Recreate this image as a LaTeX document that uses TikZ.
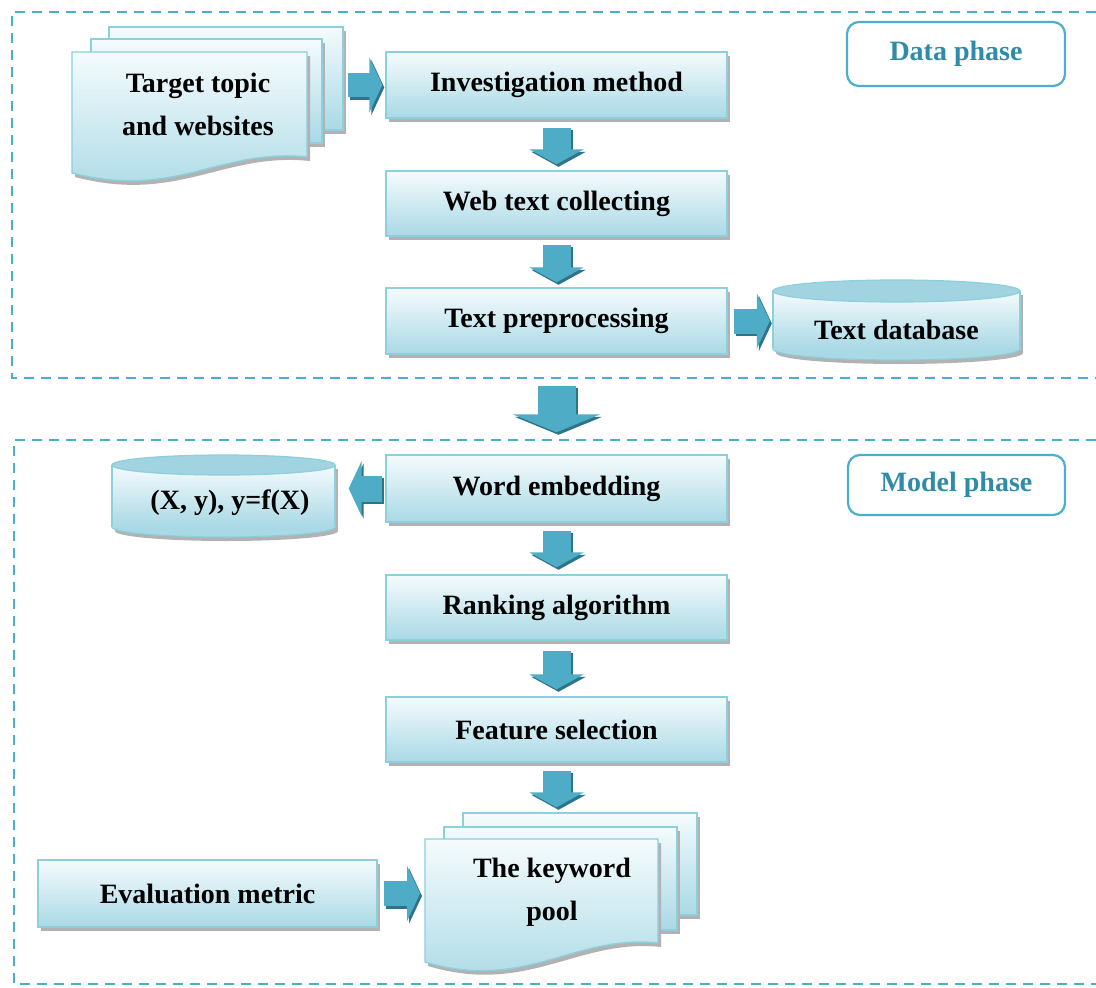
\documentclass[tikz,border=0pt]{standalone}
\usepackage{fontspec}
\setmainfont{Liberation Serif}
\usetikzlibrary{shadows,arrows.meta,calc}
\definecolor{dashc}{HTML}{4AAFC8}
\definecolor{boxtop}{HTML}{F5FBFD}
\definecolor{boxbot}{HTML}{A9D9E5}
\definecolor{boxline}{HTML}{8CCFDD}
\definecolor{endfill}{HTML}{A2D3E0}
\definecolor{arrowc}{HTML}{4FACC7}
\definecolor{arrowsh}{HTML}{2C7489}
\definecolor{phasec}{HTML}{2E8CA8}
\tikzset{
  procbox/.style={draw=boxline, line width=1.4pt, top color=boxtop, bottom color=boxbot,
    drop shadow={shadow xshift=3pt, shadow yshift=-4pt, fill=black!30, opacity=1},
    inner sep=0pt, align=center},
  sheet/.style={draw=boxline, line width=1.4pt, top color=boxtop, bottom color=boxbot,
    drop shadow={shadow xshift=3pt, shadow yshift=-4pt, fill=black!30, opacity=1}},
  plainnode/.style={inner sep=0pt, align=center},
  phasebox/.style={draw=dashc, line width=2.2pt, rounded corners=12pt, fill=white,
    text=phasec, inner sep=0pt},
  frame/.style={draw=dashc, line width=2.6pt, dash pattern=on 10pt off 7pt},
  blockarrow/.style={draw=arrowc, line width=#1},
  blockshadow/.style={draw=arrowsh, line width=#1, transform canvas={xshift=2pt,yshift=-2.5pt}},
  smalltip/.style={-{Triangle[width=54pt,length=15pt]}},
  sidetip/.style={-{Triangle[width=55pt,length=13pt]}},
  bigtip/.style={-{Triangle[width=87pt,length=18pt]}},
  cylshadow/.style={fill=black!30},
}
\begin{document}
\begin{tikzpicture}[x=1pt,y=-1pt,font=\fontsize{28}{43}\selectfont\bfseries]
\useasboundingbox (0,0) rectangle (1096,988);
\fill[white] (0,0) rectangle (1096,988);

% phase frames
\draw[frame] (1096,12) -- (12,12) -- (12,378) -- (1096,378);
\draw[frame] (1096,440) -- (14,440) -- (14,984) -- (1096,984);

% phase labels
\node[phasebox, minimum width=218pt, minimum height=64pt] (dataphase) at (956,54) {Data phase};
\node[phasebox, minimum width=217pt, minimum height=60pt] (modelphase) at (956.5,485) {Model phase};

% process boxes
\node[procbox, minimum width=341pt, minimum height=66pt] (inv) at (556.5,85) {Investigation method};
\node[procbox, minimum width=341pt, minimum height=65pt] (web) at (556.5,203.5) {Web text collecting};
\node[procbox, minimum width=341pt, minimum height=66pt] (prep) at (556.5,321) {Text preprocessing};
\node[procbox, minimum width=341pt, minimum height=67pt] (emb) at (556.5,488.5) {Word embedding};
\node[procbox, minimum width=341pt, minimum height=65pt] (rank) at (556.5,607.5) {Ranking algorithm};
\node[procbox, minimum width=341pt, minimum height=65pt] (feat) at (556.5,729.5) {Feature selection};
\node[procbox, minimum width=339pt, minimum height=67pt] (eval) at (207.5,893.5) {Evaluation metric};

% target topic stack
\node[procbox, minimum width=234pt, minimum height=103pt] (target3) at (226,78.5) {};
\node[procbox, minimum width=231pt, minimum height=104pt] (target2) at (206.5,91) {};
\path[sheet] (72,52) -- (307,52) -- (307,157) .. controls (220,148) and (175,200) .. (72,173) -- cycle;
\node[plainnode] (target) at (198,104) {Target topic\\and websites};

% keyword pool stack
\node[procbox, minimum width=234pt, minimum height=102pt] (pool3) at (580,864) {};
\node[procbox, minimum width=233pt, minimum height=103pt] (pool2) at (560.5,878.5) {};
\path[sheet] (425,839) -- (658,839) -- (658,943) .. controls (575,934) and (525,992) .. (425,962) -- cycle;
\node[plainnode] (pool) at (552,892) {The keyword\\pool};
\coordinate (poolw) at (425,893.5);

% Text database cylinder
\fill[cylshadow] (899.5,353) ellipse [x radius=123.5pt, y radius=11pt];
\fill[cylshadow] (776,295) rectangle (1023,353);
\filldraw[fill=boxbot, draw=boxline, line width=1.2pt] (896.5,349) ellipse [x radius=123.5pt, y radius=11pt];
\fill[top color=boxtop, bottom color=boxbot] (773,291) rectangle (1020,349);
\draw[boxline, line width=1.2pt] (773,291) -- (773,349) (1020,291) -- (1020,349);
\filldraw[fill=endfill, draw=boxline, line width=1.2pt] (896.5,291) ellipse [x radius=123.5pt, y radius=11pt];
\node[plainnode, minimum width=247pt, minimum height=60pt] (db) at (896.5,330) {Text database};

% (X,y) cylinder
\fill[cylshadow] (226.5,531) ellipse [x radius=111.5pt, y radius=10pt];
\fill[cylshadow] (115,469) rectangle (338,531);
\filldraw[fill=boxbot, draw=boxline, line width=1.2pt] (223.5,527) ellipse [x radius=111.5pt, y radius=10pt];
\fill[top color=boxtop, bottom color=boxbot] (112,465) rectangle (335,527);
\draw[boxline, line width=1.2pt] (112,465) -- (112,527) (335,465) -- (335,527);
\filldraw[fill=endfill, draw=boxline, line width=1.2pt] (223.5,465) ellipse [x radius=111.5pt, y radius=10pt];
\node[plainnode, minimum width=223pt, minimum height=60pt] (xy) at (230,503) {(X, y), y=f(X)};

% block arrows (shadow then arrow)
\foreach \s in {blockshadow, blockarrow}{
  \draw[\s=24pt, sidetip, shorten <=4pt, shorten >=3pt] (target3.east |- inv.west) -- (inv.west);
  \draw[\s=28pt, smalltip, shorten <=9pt, shorten >=6pt] (inv.south) -- (web.north);
  \draw[\s=28pt, smalltip, shorten <=8pt, shorten >=5pt] (web.south) -- (prep.north);
  \draw[\s=25pt, sidetip, shorten <=6pt, shorten >=3pt] (prep.east) -- (prep.east -| db.west);
  \draw[\s=38pt, bigtip, shorten <=31pt, shorten >=22pt] (prep.south) -- (emb.north);
  \draw[\s=26pt, sidetip, shorten <=3pt, shorten >=7pt] (emb.west) -- (emb.west -| xy.east);
  \draw[\s=28pt, smalltip, shorten <=8pt, shorten >=7pt] (emb.south) -- (rank.north);
  \draw[\s=28pt, smalltip, shorten <=10pt, shorten >=7pt] (rank.south) -- (feat.north);
  \draw[\s=28pt, smalltip, shorten <=8pt, shorten >=5pt] (feat.south) -- (feat.south |- pool3.north);
  \draw[\s=25pt, sidetip, shorten <=6pt, shorten >=5pt] (eval.east) -- (poolw);
}
\end{tikzpicture}
\end{document}
